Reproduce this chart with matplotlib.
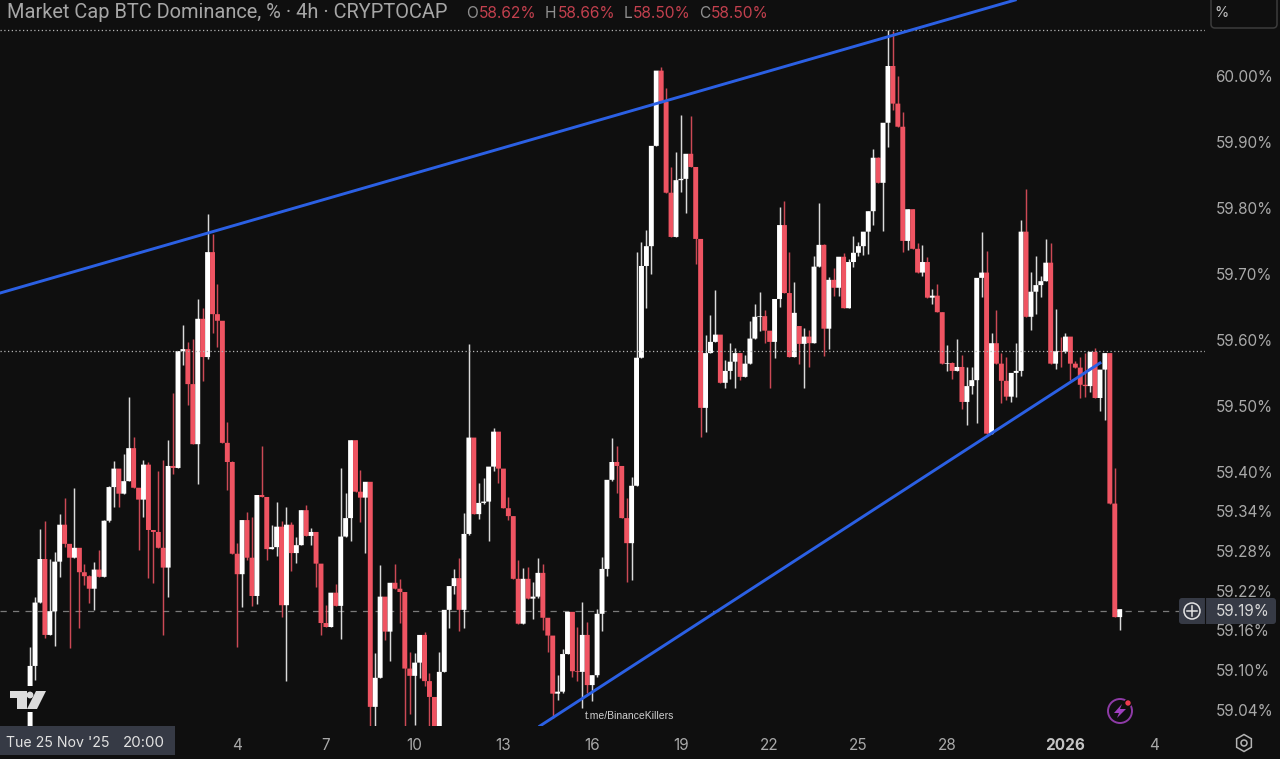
import matplotlib
matplotlib.use('Agg')
import matplotlib.pyplot as plt
from matplotlib.patches import Rectangle, Circle, Polygon, RegularPolygon, FancyBboxPatch

plt.rcParams['font.family'] = ['Inter', 'DejaVu Sans']

# 4h candles, one per index, in percent
closes = [59.106,59.202,59.268,59.153,59.189,59.264,59.320,59.291,59.270,59.285,
          59.248,59.242,59.223,59.252,59.241,59.326,59.377,59.405,59.367,59.386,
          59.436,59.376,59.358,59.411,59.312,59.309,59.285,59.255,59.409,59.406,
          59.583,59.586,59.533,59.442,59.632,59.574,59.733,59.639,59.629,59.444,
          59.415,59.276,59.245,59.327,59.270,59.212,59.365,59.362,59.283,59.286,
          59.317,59.198,59.320,59.277,59.289,59.342,59.303,59.309,59.261,59.171,
          59.165,59.217,59.197,59.302,59.330,59.448,59.370,59.361,59.385,59.044,
          59.088,59.211,59.158,59.232,59.223,59.218,59.102,59.091,59.111,59.153,
          59.083,59.059,59.009,59.097,59.191,59.227,59.239,59.191,59.306,59.452,
          59.336,59.353,59.355,59.408,59.461,59.405,59.345,59.333,59.238,59.170,
          59.238,59.208,59.211,59.247,59.179,59.152,59.064,59.067,59.124,59.188,
          59.098,59.097,59.153,59.077,59.092,59.185,59.253,59.388,59.415,59.409,
          59.330,59.292,59.379,59.573,59.712,59.742,59.894,60.008,59.961,59.823,
          59.756,59.842,59.844,59.882,59.862,59.753,59.497,59.580,59.597,59.608,
          59.535,59.553,59.567,59.580,59.544,59.564,59.602,59.635,59.636,59.614,
          59.597,59.662,59.774,59.671,59.574,59.641,59.594,59.605,59.595,59.711,
          59.744,59.617,59.691,59.679,59.726,59.648,59.718,59.732,59.742,59.764,
          59.795,59.876,59.838,59.929,60.015,59.958,59.923,59.750,59.798,59.738,
          59.702,59.718,59.664,59.667,59.642,59.564,59.565,59.553,59.559,59.506,
          59.530,59.539,59.694,59.702,59.458,59.595,59.564,59.538,59.514,59.550,
          59.553,59.764,59.635,59.673,59.683,59.689,59.717,59.564,59.583,59.582,
          59.605,59.564,59.558,59.532,59.530,59.582,59.512,59.555,59.580,59.352,
          59.180,59.192]
highs = [59.135,59.211,59.314,59.326,59.268,59.279,59.336,59.361,59.291,59.376,
         59.283,59.261,59.244,59.264,59.282,59.327,59.379,59.417,59.405,59.427,
         59.514,59.453,59.376,59.418,59.415,59.312,59.402,59.418,59.448,59.520,
         59.583,59.623,59.597,59.602,59.662,59.648,59.791,59.761,59.685,59.629,
         59.476,59.416,59.292,59.327,59.339,59.332,59.365,59.439,59.362,59.320,
         59.355,59.326,59.347,59.324,59.302,59.342,59.350,59.315,59.309,59.261,
         59.198,59.217,59.230,59.406,59.368,59.448,59.448,59.403,59.385,59.385,
         59.126,59.259,59.211,59.232,59.261,59.238,59.218,59.127,59.126,59.153,
         59.158,59.095,59.059,59.127,59.191,59.227,59.253,59.270,59.338,59.594,
         59.452,59.383,59.391,59.408,59.467,59.461,59.405,59.362,59.333,59.267,
         59.255,59.256,59.233,59.270,59.261,59.179,59.152,59.092,59.132,59.188,
         59.188,59.165,59.203,59.173,59.092,59.192,59.271,59.388,59.452,59.439,
         59.409,59.361,59.392,59.733,59.748,59.767,59.894,60.008,60.014,59.982,
         59.862,59.885,59.941,59.882,59.939,59.862,59.753,59.608,59.638,59.676,
         59.608,59.570,59.595,59.588,59.580,59.577,59.629,59.655,59.673,59.645,
         59.614,59.662,59.802,59.811,59.733,59.688,59.621,59.618,59.615,59.727,
         59.808,59.745,59.695,59.709,59.726,59.732,59.723,59.758,59.748,59.764,
         59.795,59.889,59.877,59.929,60.070,60.068,60.000,59.945,59.798,59.798,
         59.747,59.744,59.726,59.677,59.685,59.642,59.592,59.567,59.602,59.577,
         59.559,59.559,59.694,59.764,59.735,59.611,59.645,59.580,59.574,59.550,
         59.595,59.782,59.829,59.703,59.727,59.697,59.753,59.747,59.647,59.605,
         59.611,59.605,59.568,59.574,59.580,59.582,59.588,59.555,59.580,59.580,
         59.406,59.192]
lows = [58.986,59.085,59.202,59.148,59.153,59.136,59.241,59.286,59.133,59.270,
        59.164,59.229,59.202,59.191,59.241,59.241,59.324,59.347,59.347,59.367,
        59.386,59.376,59.282,59.332,59.239,59.232,59.285,59.153,59.211,59.397,
        59.406,59.562,59.502,59.442,59.382,59.538,59.571,59.611,59.589,59.444,
        59.373,59.276,59.135,59.195,59.267,59.197,59.200,59.362,59.267,59.283,
        59.273,59.180,59.083,59.250,59.262,59.289,59.303,59.289,59.226,59.153,
        59.165,59.165,59.197,59.147,59.302,59.295,59.370,59.324,59.277,59.015,
        59.015,59.088,59.145,59.114,59.223,59.171,59.014,59.033,59.016,59.088,
        59.076,59.014,59.006,59.006,59.097,59.164,59.215,59.159,59.164,59.305,
        59.336,59.329,59.352,59.295,59.402,59.383,59.345,59.327,59.238,59.170,
        59.170,59.208,59.177,59.209,59.161,59.127,59.027,59.055,59.065,59.124,
        59.089,59.083,59.042,59.065,59.053,59.089,59.159,59.242,59.386,59.368,
        59.330,59.233,59.236,59.379,59.573,59.648,59.700,59.894,59.961,59.823,
        59.756,59.756,59.824,59.792,59.862,59.715,59.453,59.461,59.580,59.597,
        59.535,59.527,59.541,59.527,59.539,59.544,59.564,59.602,59.614,59.595,
        59.527,59.573,59.650,59.671,59.574,59.574,59.564,59.527,59.559,59.595,
        59.711,59.576,59.586,59.667,59.667,59.648,59.648,59.711,59.727,59.729,
        59.730,59.774,59.838,59.765,59.892,59.948,59.923,59.733,59.736,59.738,
        59.702,59.697,59.664,59.655,59.642,59.564,59.553,59.541,59.553,59.495,
        59.471,59.518,59.474,59.665,59.458,59.458,59.564,59.505,59.509,59.506,
        59.514,59.545,59.635,59.615,59.639,59.665,59.689,59.564,59.556,59.559,
        59.580,59.539,59.558,59.512,59.514,59.521,59.512,59.492,59.479,59.352,
        59.180,59.161]
# open is the previous close, except the first bar and one gap
opens = [59.002] + closes[:-1]
opens[156] = 59.621

price_ticks = [60.00, 59.90, 59.80, 59.70, 59.60, 59.50, 59.40, 59.34, 59.28, 59.22, 59.16, 59.10, 59.04]
date_ticks = [42, 60, 78, 96, 114, 132, 150, 168, 186, 210, 228]
date_labels = ['4', '7', '10', '13', '16', '19', '22', '25', '28', '2026', '4']

upper_trend_x = [-6.1, 199.8]
upper_trend_y = [59.671, 60.115]
lower_trend_x = [103.4, 217.0]
lower_trend_y = [59.015, 59.565]
dotted_levels = [60.069, 59.583]
last_price = 59.189

BG = '#0f0f0f'
RED = '#ef5462'
WHITE = '#ffffff'
BLUE = '#2b60e4'
GREY = '#a9a9a9'
BOX = '#363a45'

fig = plt.figure(figsize=(12.8, 7.59), dpi=100, facecolor=BG)
ax = fig.add_axes([0, 33 / 759, 1205 / 1280, 726 / 759], facecolor=BG)

for i in range(len(closes)):
    col = WHITE if closes[i] >= opens[i] else RED
    ax.plot([i, i], [lows[i], highs[i]], color=col, lw=1.05, solid_capstyle='butt', zorder=3 + i * 0.001, alpha=0.85)
    # no pixel snapping, otherwise the bodies come out with uneven widths
    ax.bar(i, abs(closes[i] - opens[i]), bottom=min(closes[i], opens[i]), width=1.0, color=col, lw=0,
           zorder=3 + i * 0.001, snap=False)

ax.axhline(last_price, color='#7a7a7a', lw=0.9, dashes=(5, 5), zorder=1)
for lev in dotted_levels:
    ax.axhline(lev, color='#b4b4b4', lw=0.9, dashes=(1, 2), zorder=5)
ax.plot(upper_trend_x, upper_trend_y, color=BLUE, lw=2.1, zorder=6)
ax.plot(lower_trend_x, lower_trend_y, color=BLUE, lw=2.1, zorder=6)

ax.set_xlim(-6.105, 238.3)
ax.set_ylim(59.015, 60.115)
ax.set_yticks(price_ticks, ['%.2f%%' % p for p in price_ticks])
ax.yaxis.tick_right()
ax.set_xticks(date_ticks, date_labels)
ax.tick_params(axis='y', length=0, pad=7.4, labelsize=11, labelcolor=GREY)
ax.tick_params(axis='x', length=0, pad=9, labelsize=11, labelcolor=GREY)
for lab in ax.get_xticklabels():
    if lab.get_text() == '2026':
        lab.set_fontweight('bold')
        lab.set_color('#c4c4c4')
for s in ax.spines.values():
    s.set_visible(False)

# overlay in screen pixels for the TradingView furniture
ui = fig.add_axes([0, 0, 1, 1], facecolor='none')
ui.set_xlim(0, 1280)
ui.set_ylim(759, 0)
ui.axis('off')

ui.text(7, 13, 'Market Cap BTC Dominance, % · 4h · CRYPTOCAP', color='#a6a6a6', fontsize=14.4,
        family='Roboto', va='center', ha='left')
for x, s, c in [(466, 'O', '#8f8f8f'), (479, '58.62%', '#c2404e'), (545, 'H', '#8f8f8f'), (558, '58.66%', '#c2404e'),
                (624, 'L', '#8f8f8f'), (633, '58.50%', '#c2404e'), (699, 'C', '#8f8f8f'), (711, '58.50%', '#c2404e')]:
    ui.text(x, 13, s, color=c, fontsize=11.2, va='center', ha='left')

# percent button, top right
ui.add_patch(FancyBboxPatch((1211, -12), 66, 40, boxstyle='round,pad=0,rounding_size=4', fc=BG, ec='#3c3c3c', lw=1.1))
ui.text(1221, 13, '%', color='#c0c0c0', fontsize=10.5, va='center', ha='center')

# last price tag with plus button
ui.add_patch(FancyBboxPatch((1179, 598), 97, 26, boxstyle='round,pad=0,rounding_size=3', fc=BOX, ec='none'))
ui.plot([1205, 1205], [598, 624], color=BG, lw=0.8)
ui.add_patch(Circle((1192, 611), 8, fc='none', ec='#e4e4e4', lw=1.1))
ui.plot([1187, 1197], [611, 611], color='#e4e4e4', lw=1.1)
ui.plot([1192, 1192], [606, 616], color='#e4e4e4', lw=1.1)
ui.text(1216, 612, '59.19%', color='#d8d8d8', fontsize=11, va='center', ha='left')

# crosshair time tag
ui.add_patch(Rectangle((0, 726), 175, 29, fc=BOX, ec='none'))
ui.text(6, 743, "Tue 25 Nov '25", color='#e2e2e2', fontsize=10.2, va='center', ha='left')
ui.text(123, 743, '20:00', color='#e2e2e2', fontsize=10.8, va='center', ha='left')

# tradingview logo
ui.add_patch(Rectangle((25, 686), 11, 26, fc=BG, ec='none'))
ui.add_patch(Polygon([(10, 691), (27, 691), (27, 709), (17, 709), (17, 698), (10, 698)], fc='#dcdcdc', ec='none'))
ui.add_patch(Circle((30, 695), 3.4, fc='#dcdcdc', ec='none'))
ui.add_patch(Polygon([(36, 691), (46, 691), (37, 709), (27, 709)], fc='#dcdcdc', ec='none'))

ui.text(630, 716, 't.me/BinanceKillers', color='#d0d0d0', fontsize=7.5, family='Liberation Sans', va='center', ha='center')

# bolt icon
ui.add_patch(Circle((1120, 711), 12, fc='none', ec='#8e3ba6', lw=1.4))
ui.add_patch(Polygon([(1122, 704), (1114, 713), (1119, 713), (1117, 718), (1126, 709), (1120, 709)], fc='#a040c0', ec='none'))
ui.add_patch(Circle((1128, 703), 3.4, fc='#ef3b4f', ec=BG, lw=1))

# settings icon
ui.add_patch(RegularPolygon((1244, 743), 6, radius=8.5, fc='none', ec='#b4b4b4', lw=1.1))
ui.add_patch(Circle((1244, 743), 3, fc='none', ec='#b4b4b4', lw=1.1))

fig.savefig('out.png', dpi=100, facecolor=BG)
